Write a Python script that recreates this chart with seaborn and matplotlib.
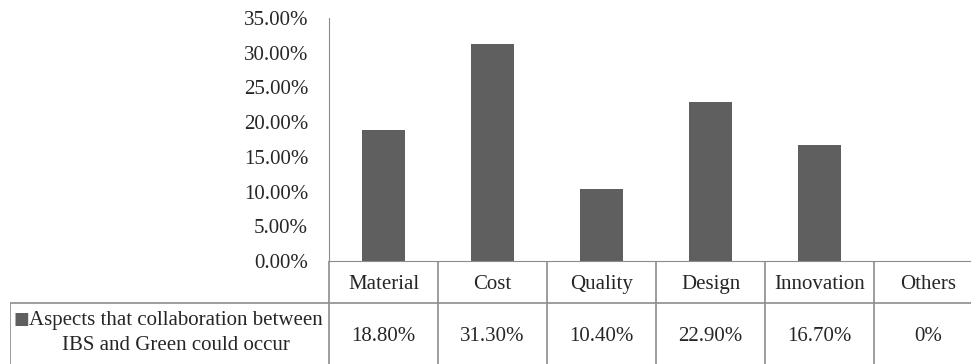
import numpy as np
import matplotlib
matplotlib.use("Agg")
import matplotlib.pyplot as plt
import seaborn as sns

# ================= DATA =================

categories = ["Material", "Cost", "Quality", "Design", "Innovation", "Others"]
values = [0.188, 0.313, 0.104, 0.229, 0.167, 0.0]
value_labels = ["18.80%", "31.30%", "10.40%", "22.90%", "16.70%", "0%"]
series_name = "Aspects that collaboration between\nIBS and Green could occur"
y_ticks = [0.0, 0.05, 0.10, 0.15, 0.20, 0.25, 0.30, 0.35]

sns.set_style("white")
plt.rcParams["font.family"] = ["Liberation Serif", "DejaVu Sans"]

BAR = "#5f5f5f"
LINE = "#8c8c8c"
FS = 15
W, H = 971, 364

fig = plt.figure(figsize=(W / 100, H / 100), dpi=100)

# main plot area (pixel layout of the original)
x0, x1 = 329, 983
ax = fig.add_axes([x0 / W, (H - 261) / H, (x1 - x0) / W, (261 - 18) / H])

sns.barplot(x=categories, y=values, color=BAR, width=0.4, ax=ax,
            saturation=1, edgecolor="none")

ax.set_xlim(-0.5, len(categories) - 0.5)
ax.set_ylim(0, 0.35)
ax.set_yticks(y_ticks)
ax.set_yticklabels([f"{t * 100:.2f}%" for t in y_ticks], fontsize=FS)
ax.set_xticks([])
ax.set_xlabel("")
ax.set_ylabel("")
ax.tick_params(axis="y", length=0, pad=15)
for s in ["top", "right"]:
    ax.spines[s].set_visible(False)
ax.spines["left"].set_color(LINE)
ax.spines["bottom"].set_color(LINE)

# ================= DATA TABLE =================

unit = (x1 - x0) / len(categories)
tl = 10
left_w = (x0 - tl) / unit
tx = fig.add_axes([tl / W, 0, (x1 - tl) / W, (H - 261) / H])
tx.set_xlim(-0.5 - left_w, len(categories) - 0.5)
tx.set_ylim(0, 103)
tx.axis("off")

n = len(categories)
# horizontal lines
tx.plot([-0.5, n - 0.5], [103, 103], color=LINE, lw=1.2)
tx.plot([-0.5 - left_w, n - 0.5], [61, 61], color=LINE, lw=1.2)
# vertical lines
tx.plot([-0.5 - left_w, -0.5 - left_w], [-5, 61], color=LINE, lw=1.2)
for i in range(n + 1):
    tx.plot([i - 0.5, i - 0.5], [-5, 103], color=LINE, lw=1.2)

for i, (c, v) in enumerate(zip(categories, value_labels)):
    tx.text(i, 75, c, ha="center", va="baseline", fontsize=FS)
    tx.text(i, 23, v, ha="center", va="baseline", fontsize=FS)

lab = tx.text(-0.5 - left_w / 2 + 0.06, 31, series_name, ha="center",
              va="center", multialignment="center", fontsize=FS,
              linespacing=1.45)
tx.annotate("\u25a0", xy=(0, 1.02), xycoords=lab, ha="right", va="top",
            fontsize=12, color=BAR, family="DejaVu Sans")

fig.savefig("out.png", dpi=100)
